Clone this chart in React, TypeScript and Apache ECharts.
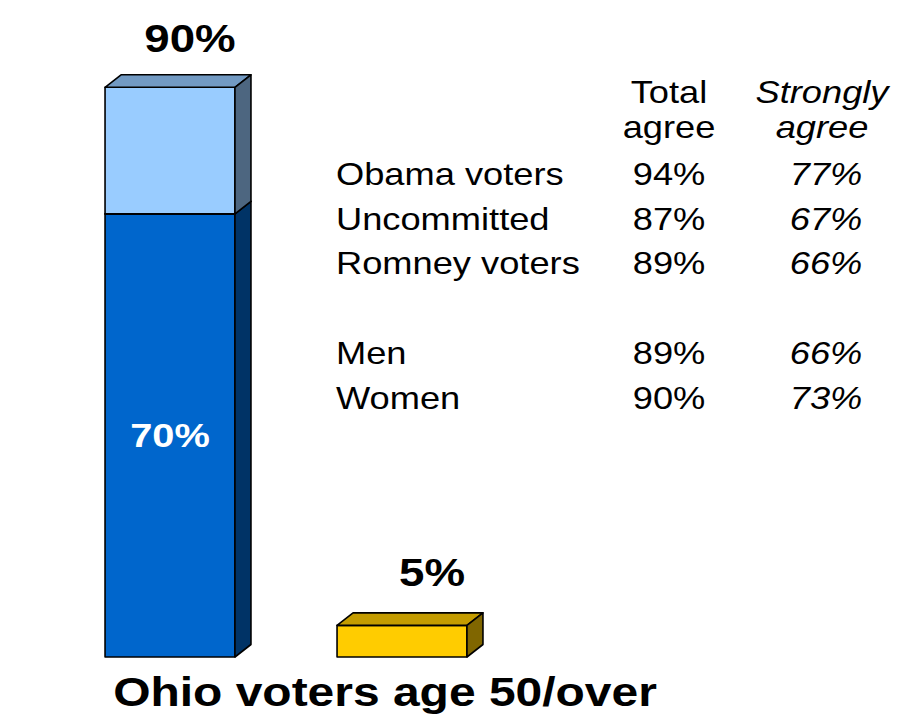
import React, { useEffect, useRef } from "react";
import * as echarts from "echarts";

// ---- data ----
const barCategories = ["Agree", "Disagree"];
// stacked segments: [categoryIndex, from, to]
const segmentCat = [0, 0, 1];
const segmentFrom = [0, 70, 0];
const segmentTo = [70, 90, 5];
const segmentShowLabel = [true, false, false];
const totalCat = [0, 1];
const totalValues = [90, 5];

const groups = ["Obama voters", "Uncommitted", "Romney voters", "Men", "Women"];
const totalAgree = [94, 87, 89, 89, 90];
const stronglyAgree = [77, 67, 66, 66, 73];
const headerTotal = ["Total", "agree"];
const headerStrong = ["Strongly", "agree"];
const title = "Ohio voters age 50/over";

// ---- styles ----
const FONT = '"Liberation Sans", Arial, Helvetica, sans-serif';
const SX = 1.17;
const DX = 16;
const DY = 12.5;
const totalLabelDx = [20, 30];
const totalLabelDy = [-49, -53];
const segmentColors = [
  { front: "#0066CC", top: "#0052A3", side: "#003366" },
  { front: "#99CCFF", top: "#729AC3", side: "#4D6680" },
  { front: "#FFCC00", top: "#C49C00", side: "#806600" },
];

export default function App() {
  const ref = useRef<HTMLDivElement>(null);
  useEffect(() => {
    if (!ref.current) return;
    const chart = echarts.init(ref.current, undefined, { renderer: "svg" });

    const segData = segmentCat.map((c, i) => [c, segmentFrom[i], segmentTo[i]]);
    const totData = totalCat.map((c, i) => [c, totalValues[i]]);

    const graphics: any[] = [];
    const col1 = 669;
    const col2 = 824;
    const labelX = 336;
    headerTotal.forEach((t, i) => {
      graphics.push({
        type: "text", x: col1, y: 92 + i * 35, scaleX: SX,
        style: { text: t, font: `31px ${FONT}`, fill: "#000", align: "center", verticalAlign: "middle" },
      });
    });
    headerStrong.forEach((t, i) => {
      graphics.push({
        type: "text", x: col2 - 2, y: 92 + i * 35, scaleX: SX,
        style: { text: t, font: `italic 31px ${FONT}`, fill: "#000", align: "center", verticalAlign: "middle" },
      });
    });
    groups.forEach((g, i) => {
      const y = 174 + i * 44.7 + (i >= 3 ? 45 : 0);
      graphics.push({
        type: "text", x: labelX, y, scaleX: SX,
        style: { text: g, font: `31px ${FONT}`, fill: "#000", align: "left", verticalAlign: "middle" },
      });
      graphics.push({
        type: "text", x: col1, y, scaleX: SX,
        style: { text: `${totalAgree[i]}%`, font: `31px ${FONT}`, fill: "#000", align: "center", verticalAlign: "middle" },
      });
      graphics.push({
        type: "text", x: col2 + 2, y, scaleX: SX,
        style: { text: `${stronglyAgree[i]}%`, font: `italic 31px ${FONT}`, fill: "#000", align: "center", verticalAlign: "middle" },
      });
    });
    graphics.push({
      type: "text", x: 385, y: 692, scaleX: SX,
      style: { text: title, font: `bold 41px ${FONT}`, fill: "#000", align: "center", verticalAlign: "middle" },
    });

    chart.setOption({
      animation: false,
      grid: { left: 54, width: 464, top: 24, height: 633 },
      xAxis: { type: "category", data: barCategories, show: false },
      yAxis: { type: "value", min: 0, max: 100, show: false },
      tooltip: { show: false },
      series: [
        {
          type: "custom",
          clip: false,
          data: segData,
          renderItem: (params: any, api: any) => {
            const cat = api.value(0);
            const lo = api.value(1);
            const hi = api.value(2);
            const pLo = api.coord([cat, lo]);
            const pHi = api.coord([cat, hi]);
            const bw = api.size([1, 0])[0] * 0.56;
            const x0 = pLo[0] - bw / 2;
            const x1 = pLo[0] + bw / 2;
            const yb = pLo[1];
            const yt = pHi[1];
            const c = segmentColors[params.dataIndex];
            const st = { stroke: "#000", lineWidth: 1.6, lineJoin: "round" };
            const children: any[] = [
              { type: "polygon", shape: { points: [[x0, yb], [x1, yb], [x1, yt], [x0, yt]] }, style: { fill: c.front, ...st } },
              { type: "polygon", shape: { points: [[x0, yt], [x1, yt], [x1 + DX, yt - DY], [x0 + DX, yt - DY]] }, style: { fill: c.top, ...st } },
              { type: "polygon", shape: { points: [[x1, yb], [x1 + DX, yb - DY], [x1 + DX, yt - DY], [x1, yt]] }, style: { fill: c.side, ...st } },
            ];
            if (segmentShowLabel[params.dataIndex]) {
              children.push({
                type: "text", x: pLo[0], y: (yb + yt) / 2, scaleX: SX,
                style: { text: `${hi - lo}%`, font: `bold 34px ${FONT}`, fill: "#fff", align: "center", verticalAlign: "middle" },
              });
            }
            return { type: "group", children };
          },
        },
        {
          type: "custom",
          clip: false,
          data: totData,
          renderItem: (params: any, api: any) => {
            const p = api.coord([api.value(0), api.value(1)]);
            const i = params.dataIndex;
            return {
              type: "text", x: p[0] + totalLabelDx[i], y: p[1] + totalLabelDy[i], scaleX: SX,
              style: { text: `${api.value(1)}%`, font: `bold 39px ${FONT}`, fill: "#000", align: "center", verticalAlign: "middle" },
            };
          },
        },
      ],
      graphic: graphics,
    });
    return () => chart.dispose();
  }, []);
  return (
    <div
      ref={ref}
      style={{ position: "absolute", left: 0, top: 0, width: 903, height: 721, background: "#fff" }}
    />
  );
}
